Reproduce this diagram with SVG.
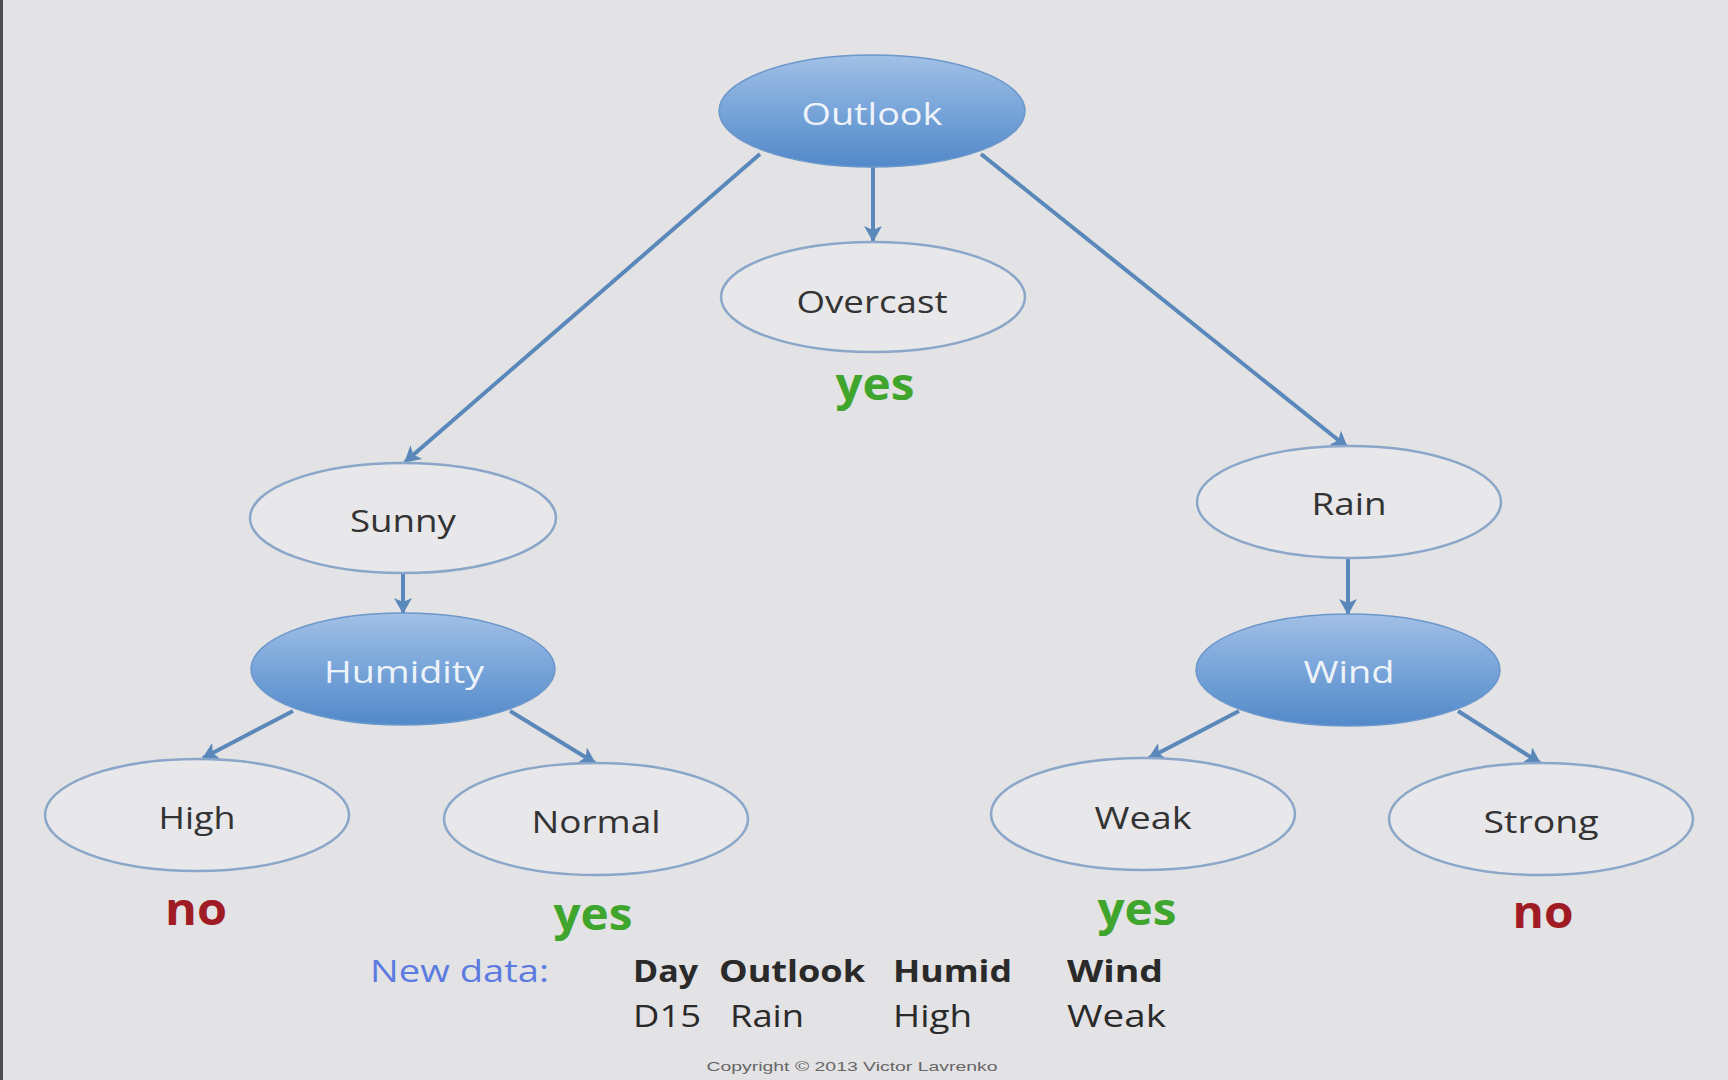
<svg xmlns="http://www.w3.org/2000/svg" width="1728" height="1080" viewBox="0 0 1728 1080">
<defs>
<linearGradient id="blueFill" x1="0" y1="0" x2="0" y2="1">
<stop offset="0" stop-color="#a2c0e6"/>
<stop offset="0.5" stop-color="#77a4d9"/>
<stop offset="1" stop-color="#5289c9"/>
</linearGradient>
<marker id="arrow" viewBox="0 0 16 18" refX="15" refY="9" markerWidth="16" markerHeight="18" markerUnits="userSpaceOnUse" orient="auto">
<path d="M0,0 L16,9 L0,18 L4,9 z" fill="#5b88bb"/>
</marker>
<style>
.blue{fill:url(#blueFill);stroke:#6b97cb;stroke-width:1.5}
.white{fill:#e8e7ea;stroke:#8aa6c8;stroke-width:2.5}
.lbl{font-family:"Open Sans","DejaVu Sans",sans-serif;font-size:31px;text-anchor:middle}
.dark{fill:#333333}
.light{fill:#eef3f9}
.conn{stroke:#5b88bb;stroke-width:4;fill:none;marker-end:url(#arrow)}
.leaf{font-family:"Open Sans","DejaVu Sans",sans-serif;font-weight:bold;font-size:44px;text-anchor:middle}
.no{fill:#a01c24}
.yes{fill:#3fa52c}
.tbl{font-family:"Open Sans","DejaVu Sans",sans-serif;font-size:31px;fill:#2a2a2a}
.hdr{font-weight:bold}
</style>
</defs>
<rect width="1728" height="1080" fill="#e3e2e4"/>
<rect x="0" y="0" width="3" height="1080" fill="#4e4e50"/>

<g id="connectors">
<line class="conn" x1="760" y1="154" x2="405" y2="462"/>
<line class="conn" x1="981" y1="154" x2="1347" y2="447"/>
<line class="conn" x1="873" y1="167" x2="873" y2="241"/>
<line class="conn" x1="403" y1="573" x2="403" y2="613"/>
<line class="conn" x1="1348" y1="558" x2="1348" y2="614"/>
<line class="conn" x1="293" y1="711" x2="203" y2="758"/>
<line class="conn" x1="510" y1="711" x2="595" y2="763"/>
<line class="conn" x1="1239" y1="711" x2="1149" y2="758"/>
<line class="conn" x1="1458" y1="711" x2="1540" y2="763"/>
</g>

<g id="outlook">
<ellipse class="blue" cx="872" cy="111" rx="153" ry="56"/>
<text class="lbl light" x="872" y="125" textLength="141" lengthAdjust="spacingAndGlyphs">Outlook</text>
</g>
<g id="overcast">
<ellipse class="white" cx="873" cy="297" rx="152" ry="55"/>
<text class="lbl dark" x="872" y="313" textLength="151" lengthAdjust="spacingAndGlyphs">Overcast</text>
</g>
<g id="sunny">
<ellipse class="white" cx="403" cy="518" rx="153" ry="55"/>
<text class="lbl dark" x="403" y="532" textLength="106" lengthAdjust="spacingAndGlyphs">Sunny</text>
</g>
<g id="humidity">
<ellipse class="blue" cx="403" cy="669" rx="152" ry="56"/>
<text class="lbl light" x="404" y="683" textLength="160" lengthAdjust="spacingAndGlyphs">Humidity</text>
</g>
<g id="rain">
<ellipse class="white" cx="1349" cy="502" rx="152" ry="56"/>
<text class="lbl dark" x="1349" y="515" textLength="75" lengthAdjust="spacingAndGlyphs">Rain</text>
</g>
<g id="wind">
<ellipse class="blue" cx="1348" cy="670" rx="152" ry="56"/>
<text class="lbl light" x="1349" y="683" textLength="91" lengthAdjust="spacingAndGlyphs">Wind</text>
</g>
<g id="high">
<ellipse class="white" cx="197" cy="815" rx="152" ry="56"/>
<text class="lbl dark" x="197" y="829" textLength="77" lengthAdjust="spacingAndGlyphs">High</text>
</g>
<g id="normal">
<ellipse class="white" cx="596" cy="819" rx="152" ry="56"/>
<text class="lbl dark" x="596" y="833" textLength="129" lengthAdjust="spacingAndGlyphs">Normal</text>
</g>
<g id="weak">
<ellipse class="white" cx="1143" cy="814" rx="152" ry="56"/>
<text class="lbl dark" x="1143" y="829" textLength="97" lengthAdjust="spacingAndGlyphs">Weak</text>
</g>
<g id="strong">
<ellipse class="white" cx="1541" cy="819" rx="152" ry="56"/>
<text class="lbl dark" x="1541" y="833" textLength="115" lengthAdjust="spacingAndGlyphs">Strong</text>
</g>

<g id="leaves">
<text class="leaf yes" x="875" y="400" textLength="79" lengthAdjust="spacingAndGlyphs">yes</text>
<text class="leaf no" x="196" y="925" textLength="62" lengthAdjust="spacingAndGlyphs">no</text>
<text class="leaf yes" x="593" y="930" textLength="79" lengthAdjust="spacingAndGlyphs">yes</text>
<text class="leaf yes" x="1137" y="925" textLength="79" lengthAdjust="spacingAndGlyphs">yes</text>
<text class="leaf no" x="1543" y="928" textLength="61" lengthAdjust="spacingAndGlyphs">no</text>
</g>

<g id="newdata">
<text class="tbl" x="370" y="982" style="fill:#5b7be0" textLength="179" lengthAdjust="spacingAndGlyphs">New data:</text>
<text class="tbl hdr" x="633" y="982" textLength="65" lengthAdjust="spacingAndGlyphs">Day</text>
<text class="tbl hdr" x="719" y="982" textLength="146" lengthAdjust="spacingAndGlyphs">Outlook</text>
<text class="tbl hdr" x="893" y="982" textLength="119" lengthAdjust="spacingAndGlyphs">Humid</text>
<text class="tbl hdr" x="1067" y="982" textLength="96" lengthAdjust="spacingAndGlyphs">Wind</text>
<text class="tbl" x="633" y="1027" textLength="68" lengthAdjust="spacingAndGlyphs">D15</text>
<text class="tbl" x="730" y="1027" textLength="74" lengthAdjust="spacingAndGlyphs">Rain</text>
<text class="tbl" x="893" y="1027" textLength="79" lengthAdjust="spacingAndGlyphs">High</text>
<text class="tbl" x="1067" y="1027" textLength="99" lengthAdjust="spacingAndGlyphs">Weak</text>
</g>

<text x="852" y="1071" font-family="'Liberation Sans',Arial,sans-serif" font-size="13" fill="#666666" text-anchor="middle" textLength="291" lengthAdjust="spacingAndGlyphs">Copyright © 2013 Victor Lavrenko</text>
</svg>
